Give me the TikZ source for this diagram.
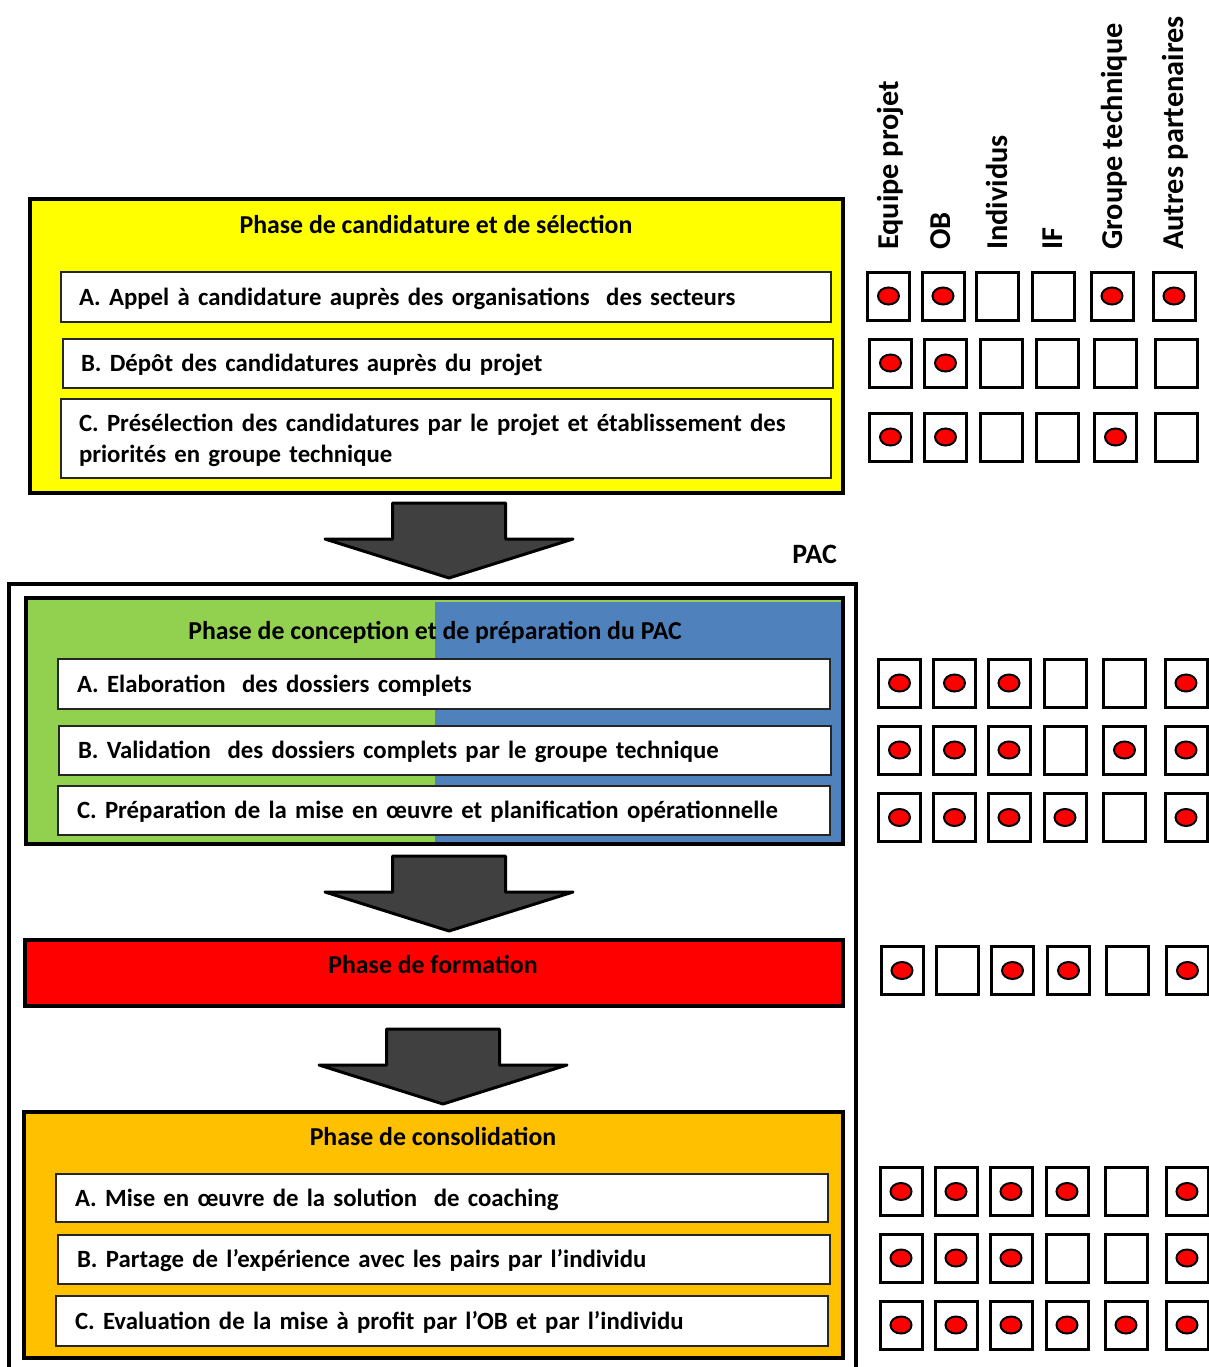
\documentclass[tikz,border=0pt]{standalone}
\usepackage{fontspec}
\setmainfont{Carlito}
\usetikzlibrary{shapes.geometric}

\definecolor{phyellow}{HTML}{FFFF00}
\definecolor{phgreen}{HTML}{92D050}
\definecolor{phblue}{HTML}{4F81BD}
\definecolor{phred}{HTML}{FF0000}
\definecolor{phorange}{HTML}{FFC000}
\definecolor{arrowgray}{HTML}{404040}

% one row of actor check boxes: #1 row id, #2 centre y, #3 list of x/mark
\newcommand\cbrow[3]{%
  \foreach \x/\m [count=\c] in {#3} {%
    \node[cbox] (cb#1-\c) at (\x,#2) {};
    \ifnum\m=1 \node[dot] (dot#1-\c) at (cb#1-\c.center) {};\fi
  }%
}

\begin{document}
\begin{tikzpicture}[x=1pt,y=-1pt,
  font=\bfseries\fontsize{25.8}{31}\selectfont,
  phasebox/.style={draw=black, line width=4pt, inner sep=0pt},
  itembox/.style={draw=black!85, line width=1.5pt, fill=white, inner xsep=18pt,
    inner ysep=0pt, align=left, text width=734pt, text height=16pt, text depth=0pt,
    font=\bfseries\fontsize{24.8}{31}\selectfont},
  title/.style={inner sep=0pt, text height=16.6pt, text depth=0pt},
  cbox/.style={draw=black, line width=3pt, fill=white, minimum width=42pt,
    minimum height=48pt, inner sep=0pt},
  dot/.style={ellipse, draw=black, line width=2pt, fill=phred, minimum width=21pt,
    minimum height=17pt, inner sep=0pt},
  hdr/.style={rotate=90, anchor=base west, inner sep=0pt,
    font=\bfseries\fontsize{30.3}{36}\selectfont},
  arrowbody/.style={fill=arrowgray, draw=black, line width=3pt, line join=round},
  blockarrow/.pic={\path[arrowbody] (-56.5,-75) -- (56.5,-75) -- (56.5,-39)
    -- (124,-39) -- (0,0) -- (-124,-39) -- (-56.5,-39) -- cycle;}
]
\path[use as bounding box, fill=white] (0,0) rectangle (1209,1367);

% ---- column headers ----
\node[hdr] (hEP) at (898,250) {Equipe projet};
\node[hdr] (hOB) at (950,250) {OB};
\node[hdr] (hIN) at (1007,250) {Individus};
\node[hdr] (hIF) at (1062,250) {IF};
\node[hdr] (hGT) at (1122,250) {Groupe technique};
\node[hdr] (hAP) at (1183,250) {Autres partenaires};

% ---- phase 1: candidature ----
\node[phasebox, fill=phyellow, minimum width=813pt, minimum height=294pt] (ph1) at (436.5,346) {};
\node[title] (t1) at (436,225) {Phase de candidature et de sélection};
\node[itembox, minimum width=770pt, minimum height=50pt] (s1a) at (446,297)
  {A. Appel à candidature auprès des organisations\ \ des secteurs};
\node[itembox, minimum width=770pt, minimum height=49pt] (s1b) at (448,363.5)
  {B. Dépôt des candidatures auprès du projet};
\node[itembox, minimum width=770pt, minimum height=79pt, text depth=31pt] (s1c) at (446,438.5)
  {C. Présélection des candidatures par le projet et établissement des\\priorités en groupe technique};

\pic at (449,578) {blockarrow};

% ---- PAC frame ----
\node[inner sep=0pt, anchor=east, text height=18pt, text depth=0pt,
  font=\bfseries\fontsize{28}{33}\selectfont] (pac) at (837,554) {PAC};
\coordinate (pacBL) at (9,1367);
\coordinate (pacTR) at (856,584);
\draw[line width=4pt] (pacBL) |- (pacTR) -- (pacTR |- pacBL);

% ---- phase 2: conception (green left half, blue right half) ----
\node[phasebox, fill=phgreen, minimum width=817pt, minimum height=246pt,
  path picture={\fill[phblue] ([yshift=-4pt]path picture bounding box.north)
    rectangle (path picture bounding box.south east);}] (ph2) at (434.5,721) {};
\node[title] (t2) at (435,631) {Phase de conception et de préparation du PAC};
\node[itembox, minimum width=772pt, minimum height=50pt] (s2a) at (444,684)
  {A. Elaboration\ \ des dossiers complets};
\node[itembox, minimum width=772pt, minimum height=49pt] (s2b) at (445,750.5)
  {B. Validation\ \ des dossiers complets par le groupe technique};
\node[itembox, minimum width=772pt, minimum height=49pt] (s2c) at (444,810.5)
  {C. Préparation de la mise en œuvre et planification opérationnelle};

\pic at (449,931) {blockarrow};

% ---- phase 3: formation ----
\node[phasebox, fill=phred, minimum width=818pt, minimum height=66pt] (ph3) at (434,973) {};
\node[title] (t3) at (433,965) {Phase de formation};

\pic at (443,1104) {blockarrow};

% ---- phase 4: consolidation ----
\node[phasebox, fill=phorange, minimum width=819pt, minimum height=246pt] (ph4) at (433.5,1235) {};
\node[title] (t4) at (433,1137) {Phase de consolidation};
\node[itembox, minimum width=772pt, minimum height=48pt] (s4a) at (442,1198)
  {A. Mise en œuvre de la solution\ \ de coaching};
\node[itembox, minimum width=772pt, minimum height=49pt] (s4b) at (444,1259.5)
  {B. Partage de l’expérience avec les pairs par l’individu};
\node[itembox, minimum width=772pt, minimum height=50pt] (s4c) at (442,1321)
  {C. Evaluation de la mise à profit par l’OB et par l’individu};

% ---- actor matrix ----
\cbrow{1}{296}{888.5/1, 943/1, 997.5/0, 1053.5/0, 1112/1, 1174/1}
\cbrow{2}{363}{890.5/1, 945.5/1, 1001/0, 1057/0, 1115.5/0, 1176.5/0}
\cbrow{3}{437}{890.5/1, 945.5/1, 1001/0, 1057/0, 1115.5/1, 1176.5/0}
\cbrow{4}{683}{899.5/1, 954.5/1, 1009/1, 1065/0, 1124.5/0, 1186/1}
\cbrow{5}{750}{899.5/1, 954.5/1, 1009/1, 1065/0, 1124.5/1, 1186/1}
\cbrow{6}{817.5}{899.5/1, 954.5/1, 1009/1, 1065/1, 1124.5/0, 1186/1}
\cbrow{7}{970.5}{902/1, 957/0, 1012.5/1, 1068.5/1, 1127.5/0, 1187.5/1}
\cbrow{8}{1191.5}{901/1, 956/1, 1011/1, 1067/1, 1126/0, 1187/1}
\cbrow{9}{1258}{901/1, 956/1, 1011/1, 1067/0, 1126/0, 1187/1}
\cbrow{10}{1325}{901/1, 956/1, 1011/1, 1067/1, 1126/1, 1187/1}
\end{tikzpicture}
\end{document}
